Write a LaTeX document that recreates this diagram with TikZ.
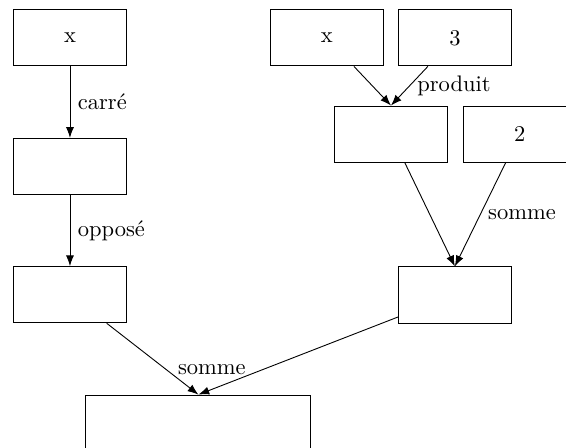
\documentclass[tikz,border=0pt]{standalone}
\usepackage{tikz}
\usetikzlibrary{positioning,arrows.meta}

\begin{document}
\begin{tikzpicture}[x=1pt, y=1pt, >=Latex,
      box/.style={draw, minimum width=50pt, minimum height=25pt, inner sep=0pt},
      widebox/.style={box, minimum width=100pt},
      flow/.style={->}]
    \useasboundingbox (0,0) rectangle (251.6,-199.1);
    % ---- left branch: x squared, then negated
    \node[box] (xl) at (31.1,-16.8) {x};
    \node[box] (sq) at (31.1,-74) {};
    \node[box] (neg) at (31.1,-131) {};
    \draw[flow] (xl) -- node[right] {carré} (sq);
    \draw[flow] (sq) -- node[right] {opposé} (neg);
    % ---- right branch: 3x, then plus 2
    \node[box] (xr) at (145.3,-16.8) {x};
    \node[box] (three) at (202.2,-16.8) {3};
    \node[box] (prod) at (173.8,-59.6) {};
    \node[box] (two) at (231,-59.6) {2};
    \node[box] (sum) at (202.2,-131.1) {};
    \draw[flow] (xr) -- (prod.north);
    \draw[flow] (three) -- node[right] {produit} (prod.north);
    \draw[flow] (prod) -- (sum.north);
    \draw[flow] (two) -- node[right] {somme} (sum.north);
    % ---- final sum
    \node[widebox] (total) at (88.2,-188.1) {};
    \draw[flow] (neg) -- (total.north);
    \draw[flow] (sum) -- (total.north);
    \node (lsomme) at (94.2,-164.4) {somme};
\end{tikzpicture}
\end{document}
